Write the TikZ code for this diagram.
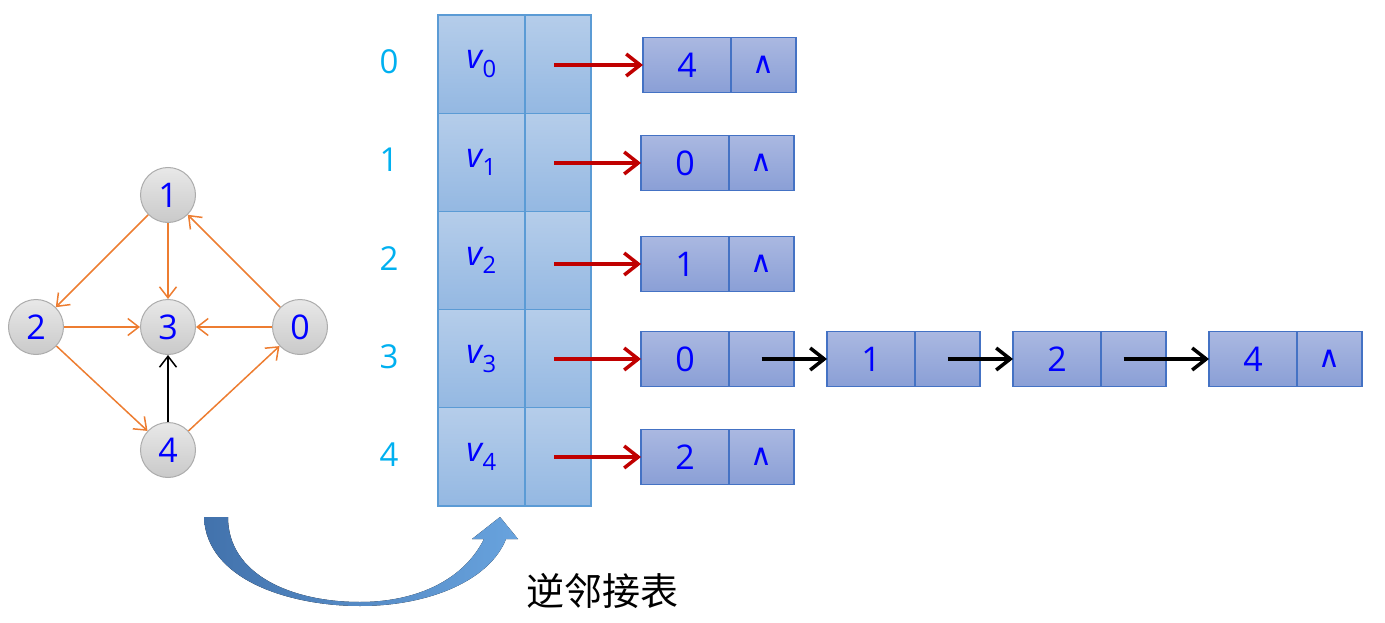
\documentclass[tikz,border=0pt]{standalone}
\usepackage{fontspec}
\setmainfont{Open Sans}
\newfontfamily\cjk{Noto Sans CJK SC}
\newfontfamily\symfont{DejaVu Sans}
\usetikzlibrary{arrows.meta,positioning}
\definecolor{edgeorange}{RGB}{237,125,49}
\definecolor{idxcyan}{RGB}{0,176,240}
\definecolor{tabtop}{RGB}{181,205,234}
\definecolor{tabbot}{RGB}{148,184,226}
\definecolor{tabline}{RGB}{91,155,213}
\definecolor{listtop}{RGB}{170,184,225}
\definecolor{listbot}{RGB}{138,159,214}
\definecolor{listline}{RGB}{68,114,196}
\definecolor{ptrred}{RGB}{192,0,0}
\definecolor{swdark}{RGB}{66,114,172}
\definecolor{swlight}{RGB}{104,163,222}
\begin{document}
\begin{tikzpicture}
	[x=1pt,y=-1pt,
		gnode/.style={circle,draw=gray!65,line width=1pt,top color=gray!18,bottom color=gray!42,minimum size=55pt,inner sep=0pt,text=blue,font=\fontsize{34}{34}\selectfont},
		gedge/.style={draw=edgeorange,line width=1.5pt,-{Straight Barb[length=11pt,width=17pt]}},
		vcell/.style={rectangle,draw=tabline,line width=1.2pt,top color=tabtop,bottom color=tabbot,minimum width=87pt,minimum height=98.2pt,inner sep=0pt,outer sep=0pt,text=blue,font=\fontsize{34}{34}\selectfont},
		pcell/.style={vcell,minimum width=66pt},
		dcell/.style={rectangle,draw=listline,line width=1.5pt,top color=listtop,bottom color=listbot,minimum width=88pt,minimum height=55pt,inner sep=0pt,outer sep=0pt,text=blue,font=\fontsize{34}{34}\selectfont},
		ncell/.style={dcell,minimum width=65pt,font=\symfont\fontsize{30}{30}\selectfont},
		ptr/.style={line width=3.5pt,-{Straight Barb[length=14pt,width=22pt]}}]
	\useasboundingbox (0,0) rectangle (1385,623);
	% graph
	\node[gnode] (g1) at (168,195) {1};
	\node[gnode] (g2) at (36,327) {2};
	\node[gnode] (g3) at (168,327) {3};
	\node[gnode] (g0) at (300,327) {0};
	\node[gnode] (g4) at (168,450) {4};
	\foreach \s/\t in {1/2,1/3,0/1,0/3,2/3,2/4,4/0}
	{
		\draw[gedge] (g\s) -- (g\t);
	}
	\draw[gedge,draw=black] (g4) -- (g3);
	% vertex table
	\foreach \i in {0,...,4}
	{
		\node[vcell] (v\i) at (481.5,{64.1+98.2*\i}) {\textit{v}\kern-1pt\textsubscript{\i}};
		\node[pcell,anchor=west] (p\i) at (v\i.east) {};
		\node[text=idxcyan,font=\fontsize{33}{33}\selectfont] (n\i) at (389,{62+98.2*\i}) {\i};
	}
	% edge lists
	\foreach \r/\x/\y/\d in {0/643/65/4,1/641/163/0,2/641/264/1,4/641/457/2}
	{
		\node[dcell,anchor=west] (a\r) at (\x,\y) {\d};
		\node[ncell,anchor=west] (b\r) at (a\r.east) {∧};
		\draw[ptr,ptrred] ([xshift=-4pt]p\r.center |- a\r.west) -- (a\r.west);
	}
	\node[dcell,anchor=west] (a3) at (641,359) {0};
	\node[ncell,anchor=west] (b3) at (a3.east) {};
	\draw[ptr,ptrred] ([xshift=-4pt]p3.center |- a3.west) -- (a3.west);
	\foreach \k/\x/\d/\t in {1/827/1/{},2/1013/2/{},3/1209/4/∧}
	{
		\node[dcell,anchor=west] (c\k) at (\x,359) {\d};
		\node[ncell,anchor=west] (e\k) at (c\k.east) {\t};
	}
	\draw[ptr] (b3.center) -- (c1.west);
	\draw[ptr] (e1.center) -- (c2.west);
	\draw[ptr] ([xshift=-10pt]e2.center) -- (c3.west);
	% curved arrow
	\fill[left color=swdark,right color=swlight]
		(204,517) .. controls (206,580) and (290,606) .. (360,606)
		.. controls (430,606) and (490,580) .. (506,539)
		-- (518,539) -- (500,517) -- (472,539) -- (484,539)
		.. controls (462,583) and (412,602) .. (360,602)
		.. controls (292,602) and (228,575) .. (228,517) -- cycle;
	\node[font=\cjk\fontsize{38}{38}\selectfont] (title) at (602,591) {逆邻接表};
\end{tikzpicture}
\end{document}
